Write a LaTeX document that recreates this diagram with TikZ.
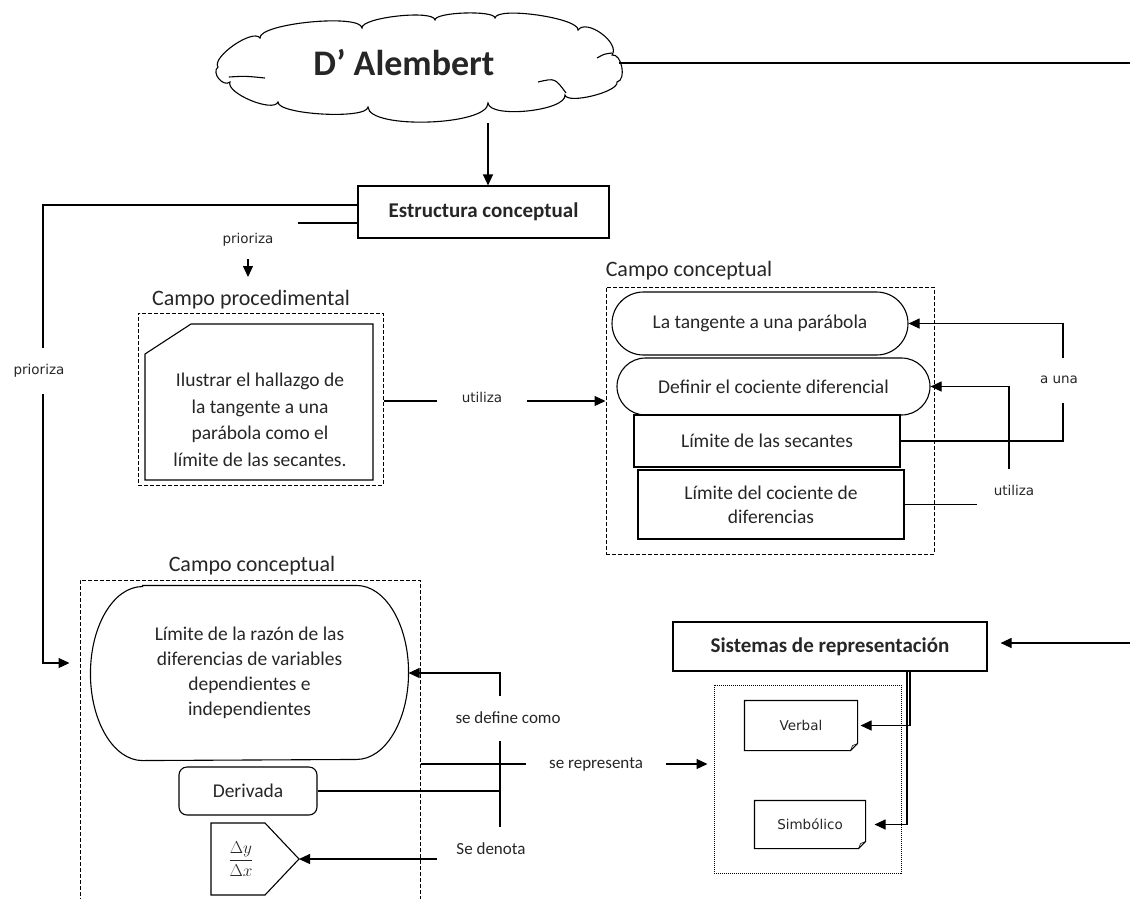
\documentclass[tikz,border=0pt]{standalone}
\usepackage{fontspec}
\setmainfont{Carlito}
\newfontfamily\smallsans{DejaVu Sans}
\usetikzlibrary{shapes.misc,arrows.meta}
\definecolor{ink}{RGB}{38,38,38}

\begin{document}
\begin{tikzpicture}[x=1pt,y=-1pt,line width=1.1pt,
  every node/.style={text=ink},
  arr/.style={-{Triangle[length=11pt,width=10pt]}},
  box/.style={draw,rectangle,inner sep=2pt,font=\fontsize{19.5}{24}\selectfont,align=center},
  headbox/.style={box,font=\bfseries\fontsize{21}{25}\selectfont},
  pill/.style={draw,rounded rectangle,inner sep=2pt,font=\fontsize{19.5}{25}\selectfont,align=center},
  fieldbox/.style={draw,rectangle,dash pattern=on 4pt off 2pt,line width=1pt},
  dotbox/.style={draw,rectangle,dash pattern=on 1pt off 1pt,line width=1pt},
  body/.style={font=\fontsize{19.5}{26.5}\selectfont,align=center},
  fieldlbl/.style={font=\fontsize{22}{26}\selectfont},
  smalllbl/.style={fill=white,inner sep=0pt,font=\smallsans\fontsize{13.5}{16}\selectfont},
  midlbl/.style={fill=white,inner sep=0pt,font=\fontsize{17}{20}\selectfont},
  notebox/.style={rectangle,inner sep=2pt,font=\smallsans\fontsize{13.5}{16}\selectfont}]

\useasboundingbox (0,0) rectangle (1130,898);
\clip (0,0) rectangle (1130,898);

% ---------- title cloud (puffs drawn one by one) ----------
\draw (218,67) .. controls (211.2,57.1) and (253.2,28.1) .. (260,38)
      .. controls (258.6,23.4) and (360.6,13.4) .. (362,28)
      .. controls (360.8,17.4) and (433.8,9.4) .. (435,20)
      .. controls (434.7,12) and (494.7,10) .. (495,18)
      .. controls (496.7,6.1) and (579.7,18.1) .. (578,30)
      .. controls (586.7,18.1) and (620.7,43.1) .. (612,55)
      .. controls (621.8,53.2) and (626.8,80.2) .. (617,82)
      .. controls (619.4,91.7) and (567.4,104.7) .. (565,95)
      .. controls (566.6,110.9) and (489.6,118.9) .. (488,103)
      .. controls (488.7,125.7) and (368.7,129.7) .. (368,107)
      .. controls (367.3,119.7) and (277.3,114.7) .. (278,102)
      .. controls (273.4,113.1) and (225.4,93.1) .. (230,82)
      .. controls (223,87.6) and (211,72.6) .. cycle;
% inner curls of the cloud
\draw (229,77) .. controls (245,76) .. (265,78);
\draw (597,58) .. controls (604,54) .. (612,53);
\draw (538,82) .. controls (555,78) .. (566,93);
\coordinate (dalE) at (619,63);
\coordinate (dalS) at (488,123);
\node[font=\bfseries\fontsize{36}{42}\selectfont] (dal) at (404,63) {D’ Alembert};

\node[headbox,minimum width=251pt,minimum height=52pt] (est) at (483.5,212) {Estructura conceptual};

% ---------- procedural field ----------
\node[fieldlbl] (lblproc) at (251,300) {Campo procedimental};
\node[fieldbox,minimum width=245pt,minimum height=172pt] (procbox) at (260.5,399) {};
\draw (145,354) -- (191,324) -- (373,324) -- (373,480) -- (145,480) -- cycle;
\node[body] (proc) at (260,420) {Ilustrar el hallazgo de\\la tangente a una\\parábola como el\\límite de las secantes.};

% ---------- upper conceptual field ----------
\node[fieldlbl] (lblccu) at (689,271) {Campo conceptual};
\node[fieldbox,minimum width=328pt,minimum height=267pt] (ccu) at (770,420.5) {};
\node[pill,minimum width=300pt,minimum height=63pt] (s1) at (760,323.5) {La tangente a una parábola};
\node[pill,minimum width=317pt,minimum height=57pt] (s2) at (773.5,386.5) {Definir el cociente diferencial};
\node[box,minimum width=266pt,minimum height=52pt] (b3) at (767,441) {Límite de las secantes};
\node[box,minimum width=266pt,minimum height=69pt] (b4) at (771,504.5) {Límite del cociente de\\diferencias};

% ---------- lower conceptual field ----------
\node[fieldlbl] (lblccl) at (252,566) {Campo conceptual};
\node[fieldbox,minimum width=340pt,minimum height=340pt] (ccl) at (250,750) {};
\node[rectangle,inner sep=2pt,minimum width=317pt,minimum height=174pt,font=\fontsize{19.5}{25}\selectfont,align=center]
  (lim) at (249.5,673) {Límite de la razón de las\\diferencias de variables\\dependientes e\\independientes};
\draw ([xshift=52pt]lim.north west) -- ([xshift=-52pt]lim.north east)
      arc[start angle=90,end angle=-90,x radius=52pt,y radius=87pt]
      -- ([xshift=52pt]lim.south west)
      arc[start angle=270,end angle=90,x radius=52pt,y radius=87pt] -- cycle;
\node[box,rounded corners=8pt,minimum width=138pt,minimum height=48pt] (der) at (248,791) {Derivada};
\draw (211,823) -- (265,823) -- (299,859) -- (265,895) -- (211,895) -- cycle;
\coordinate (dtip) at (299,859);
\node[font=\fontsize{17}{20}\selectfont] (dxy) at (241,859) {$\displaystyle\frac{\Delta y}{\Delta x}$};

% ---------- representation systems ----------
\node[headbox,minimum width=314pt,minimum height=49pt] (sis) at (830,646.5) {Sistemas de representación};
\node[dotbox,minimum width=187pt,minimum height=188pt] (rep) at (807.5,779) {};
\node[notebox,minimum width=112pt,minimum height=49pt] (verbal) at (801,725.5) {Verbal};
\node[notebox,minimum width=110pt,minimum height=47pt] (simb) at (810,824.5) {Simbólico};
\foreach \n in {verbal,simb} {
  \draw (\n.north west) -- (\n.north east) -- ([yshift=7pt]\n.south east)
        -- ([xshift=-7pt]\n.south east) -- (\n.south west) -- cycle;
  \draw[line width=0.6pt] ([yshift=7pt]\n.south east) -- ([xshift=-5pt,yshift=5pt]\n.south east)
        -- ([xshift=-7pt]\n.south east);
}

% ---------- connectors ----------
\draw[arr] (dalS) -- (est.north -| dalS);
\draw (dalE) -- (1135,63);
\draw[arr,shorten >=13pt] (1135,643) -- (sis.east |- 0,643);

\draw[arr,shorten >=10pt] (est.west |- 0,205) -- (43,205) -- (43,663) -- (ccl.west |- 0,663);
\node[smalllbl,minimum height=46pt,minimum width=54pt] (lp1) at (39,371) {prioriza};

\draw[arr] (est.west |- 0,223) -- (248,223) -- (248,277);
\node[smalllbl,minimum width=100pt,minimum height=38pt] (lp2) at (248,240) {prioriza};

\draw[arr] (procbox.east |- 0,401) -- (ccu.west |- 0,401);
\node[smalllbl,minimum width=90pt,minimum height=20pt] (lu1) at (482,397) {utiliza};

\draw[arr] (b3.east) -- (1063,441) |- (s1.east);
\node[smalllbl,minimum width=46pt,minimum height=45pt] (lau) at (1059,380) {a una};

\draw[arr] (b4.east) -- (1009,504.5) |- (s2.east);
\node[smalllbl,minimum width=74pt,minimum height=42pt] (lu2) at (1014,490) {utiliza};

\coordinate (jn) at (500,791);
\draw[line width=2.8pt] (der.east) -- (jn);
\draw[arr] (jn) |- (lim.east);
\draw[arr] (jn) |- (dtip);
\node[midlbl,minimum width=120pt,minimum height=45pt] (ldef) at (508,718) {se define como};
\node[midlbl,minimum width=108pt,minimum height=44pt] (lden) at (491,849) {Se denota};

\draw[arr,shorten >=6pt] (ccl.east |- 0,764) -- (rep.west |- 0,764);
\node[midlbl,minimum width=140pt,minimum height=22pt] (lrep) at (596,764) {se representa};

\draw[arr] (sis.south -| 910,0) |- ([xshift=3pt]verbal.east);
\draw[arr,shorten >=9pt] (sis.south -| 907,0) |- (simb.east);
\end{tikzpicture}
\end{document}
